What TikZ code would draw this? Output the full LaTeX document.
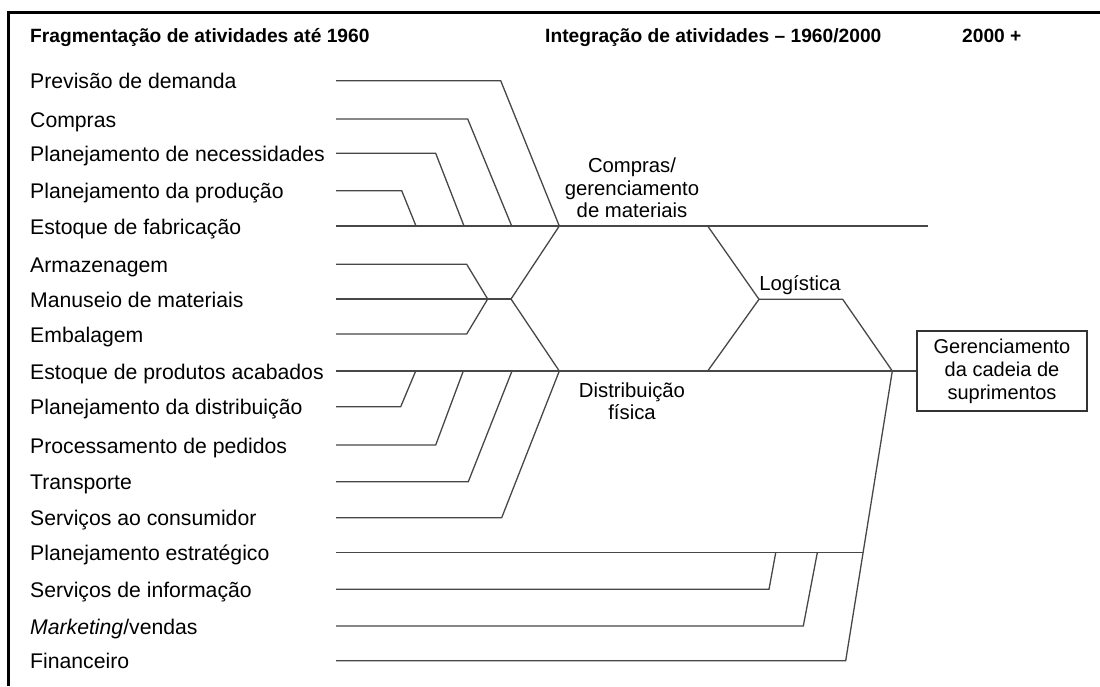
\documentclass[tikz,border=0pt]{standalone}
\usepackage{fontspec}
\setmainfont{Liberation Sans}
\begin{document}
\begin{tikzpicture}[x=1pt,y=-1pt,line join=miter]
\tikzset{
  conn/.style={draw=black!72,line width=1.3pt},
  lbl/.style={anchor=base west,inner sep=0pt,font=\fontsize{21.2}{24}\selectfont},
  hdr/.style={anchor=base west,inner sep=0pt,font=\fontsize{19.2}{22}\selectfont\bfseries},
  mid/.style={align=center,inner sep=0pt,font=\fontsize{20.3}{22.5}\selectfont},
  framestyle/.style={draw=black,line width=3pt},
  scmbox/.style={draw=black!80,line width=1.2pt,align=center,minimum width=170pt,minimum height=80pt,inner sep=0pt,font=\fontsize{20}{23}\selectfont},
}
\useasboundingbox (0,0) rectangle (1100,686);
\draw[framestyle] (8,686) -- (8,12) -- (1100,12);

% headers
\node[hdr] (h1) at (30,42) {Fragmentação de atividades até 1960};
\node[hdr] (h2) at (545,42) {Integração de atividades -- 1960/2000};
\node[hdr] (h3) at (962,42) {2000 +};

% row labels and line starts
\foreach \i/\y/\t in {0/80.7/{Previsão de demanda},1/119/{Compras},2/153.3/{Planejamento de necessidades},3/190.7/{Planejamento da produção},4/226/{Estoque de fabricação},5/264.3/{Armazenagem},6/299/{Manuseio de materiais},7/334/{Embalagem},8/371/{Estoque de produtos acabados},9/406.7/{Planejamento da distribuição},10/445/{Processamento de pedidos},11/481.7/{Transporte},12/517.7/{Serviços ao consumidor},13/552.7/{Planejamento estratégico},14/589.3/{Serviços de informação},15/626/{\textit{Marketing}/vendas},16/660.7/{Financeiro}}{
  \node[lbl] (l\i) at (30,\y+8) {\t};
  \coordinate (a\i) at (336,\y);
}

% junctions
\coordinate (J1) at (559.3,226);
\coordinate (J2) at (511,299);
\coordinate (J3) at (559.3,371);
\coordinate (J4) at (892.3,371);
\coordinate (K) at (487.7,299);
\coordinate (L1) at (707.7,226);
\coordinate (L2) at (759,299.3);
\coordinate (L3) at (842.7,299.3);
\coordinate (L4) at (707.7,371);
\coordinate (E1) at (928,226);
\coordinate (P) at (863,552.7);

% middle labels
\node[mid] (cgm) at (632,188) {Compras/\\gerenciamento\\de materiais};
\node[mid] (df) at (632,401) {Distribuição\\física};
\node[mid,anchor=base] (log) at (800,290) {Logística};
\node[scmbox] (scm) at (1002,371) {Gerenciamento\\da cadeia de\\suprimentos};

% purchasing branch
\draw[conn] (a0) -- (500.7,80.7) -- (J1);
\draw[conn] (a1) -- (467.7,119) -- (511.7,226);
\draw[conn] (a2) -- (435.7,153.3) -- (464,226);
\draw[conn] (a3) -- (401.7,190.7) -- (416,226);
\draw[conn] (a4) -- (E1);

% handling branch
\draw[conn] (a5) -- (466.7,264.3) -- (K);
\draw[conn] (a7) -- (466.7,334) -- (K);
\draw[conn] (a6) -- (J2);
\draw[conn] (J1) -- (J2) -- (J3);

% distribution branch
\draw[conn] (a8) -- (J4);
\draw[conn] (a9) -- (400.7,406.7) -- (415.7,371);
\draw[conn] (a10) -- (435.7,445) -- (463.3,371);
\draw[conn] (a11) -- (468.3,481.7) -- (512,371);
\draw[conn] (a12) -- (501.7,517.7) -- (J3);

% logistics
\draw[conn] (L1) -- (L2) -- (L3) -- (J4);
\draw[conn] (L2) -- (L4);

% other functions
\draw[conn] (a13) -- (P);
\draw[conn] (a14) -- (769,589.3) -- (775.7,552.7);
\draw[conn] (a15) -- (803.3,626) -- (817.3,552.7);
\draw[conn] (a16) -- (845.7,660.7) -- (J4);
\draw[conn] (J4) -- (scm.west);
\end{tikzpicture}
\end{document}
